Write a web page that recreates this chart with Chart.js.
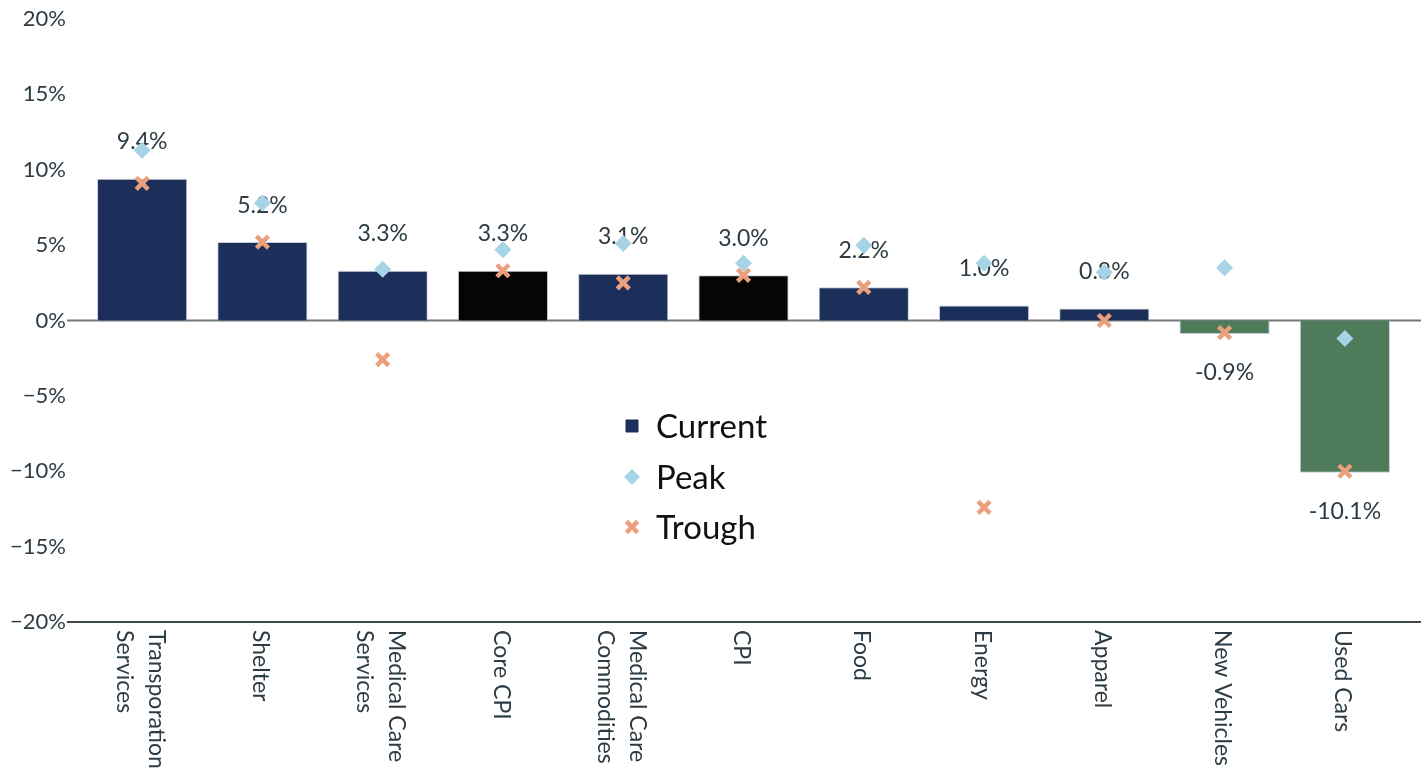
<!DOCTYPE html>
<html>
<head>
<meta charset="utf-8">
<script src="https://cdn.jsdelivr.net/npm/chart.js@4.4.1/dist/chart.umd.min.js"></script>
<style>
  html, body { margin: 0; background: #fff; }
  #wrap { width: 1426px; height: 773px; }
</style>
</head>
<body>
<div id="wrap"><canvas id="chart"></canvas></div>
<script>
const categories = [
  ["Transporation", "Services"], "Shelter", ["Medical Care", "Services"], "Core CPI",
  ["Medical Care", "Commodities"], "CPI", "Food", "Energy", "Apparel", "New Vehicles", "Used Cars"
];
const current = [9.4, 5.2, 3.3, 3.3, 3.1, 3.0, 2.2, 1.0, 0.8, -0.9, -10.1];
const peak = [11.3, 7.8, 3.4, 4.7, 5.1, 3.8, 5.0, 3.8, 3.2, 3.5, -1.2];
const trough = [9.1, 5.2, -2.6, 3.3, 2.5, 3.0, 2.2, -12.4, 0.0, -0.8, -10.0];
const yTicks = [-20, -15, -10, -5, 0, 5, 10, 15, 20];

const NAVY = "#1c2e5a", BLACK = "#050505", GREEN = "#4e7b59";
const PEAK = "#a6d3e5", TROUGH = "#eb9f7d";
const TEXT = "#2d3b44";
const FONT = 'Lato, "Noto Sans", sans-serif';

const barColors = current.map((v, i) =>
  String(categories[i]).includes("CPI") ? BLACK : (v < 0 ? GREEN : NAVY));

const fmtPct = v => (v < 0 ? "\u2212" + Math.abs(v) : v) + "%";

const overlay = {
  id: "overlay",
  beforeDatasetsDraw(chart) {
    const { ctx, chartArea: a, scales: { y } } = chart;
    const y0 = y.getPixelForValue(0);
    ctx.save();
    ctx.lineWidth = 2;
    ctx.strokeStyle = "#6e787d";
    ctx.beginPath(); ctx.moveTo(a.left - 15, y0); ctx.lineTo(a.right + 16, y0); ctx.stroke();
    ctx.strokeStyle = "#3e494f";
    ctx.beginPath(); ctx.moveTo(a.left - 15, a.bottom); ctx.lineTo(a.right + 16, a.bottom); ctx.stroke();
    ctx.restore();
  },
  afterDatasetDraw(chart, args) {
    if (args.index !== 0) return;
    const { ctx } = chart;
    ctx.save();
    ctx.font = "23px " + FONT;
    ctx.fillStyle = TEXT;
    ctx.textAlign = "center";
    ctx.textBaseline = "middle";
    args.meta.data.forEach((bar, i) => {
      const v = current[i];
      const off = v < 0 ? 39 : -37;
      ctx.fillText(v.toFixed(1) + "%", bar.x, bar.y + off);
    });
    ctx.restore();
  },
  afterDraw(chart) {
    const { ctx, chartArea: a, scales: { x } } = chart;
    ctx.save();
    // rotated category labels, reading top to bottom
    ctx.font = "23px " + FONT;
    ctx.fillStyle = TEXT;
    ctx.textAlign = "left";
    ctx.textBaseline = "middle";
    chart.data.labels.forEach((lab, i) => {
      const lines = [].concat(lab);
      ctx.save();
      ctx.translate(x.getPixelForTick(i) - 2, a.bottom + 8);
      ctx.rotate(Math.PI / 2);
      lines.forEach((t, j) => ctx.fillText(t, 0, (j - (lines.length - 1) / 2) * 32));
      ctx.restore();
    });
    // legend inside the plot
    const rows = [426, 477, 527];
    ctx.font = "33px " + FONT;
    ctx.fillStyle = "#111";
    ctx.textBaseline = "middle";
    chart.data.datasets.forEach((ds, i) => {
      const cy = rows[i];
      const style = ds.type === "line" ? ds.pointStyle : "rect";
      const color = ds.type === "line" ? ds.pointBackgroundColor : NAVY;
      const radius = style === "rect" ? 8.5 : (style === "crossRot" ? 8 : 7.5);
      ctx.save();
      ctx.fillStyle = color;
      ctx.strokeStyle = color;
      ctx.lineWidth = style === "crossRot" ? 4.5 : 1;
      Chart.helpers.drawPoint(ctx, { pointStyle: style, radius, rotation: 0, borderWidth: ctx.lineWidth }, 632, cy);
      ctx.restore();
      ctx.fillText(ds.label, 656, cy + 1);
    });
    ctx.restore();
  }
};

new Chart(document.getElementById("chart"), {
  data: {
    labels: categories,
    datasets: [
      {
        type: "bar",
        label: "Current",
        data: current,
        backgroundColor: barColors,
        borderColor: "rgba(190,200,215,0.9)",
        borderWidth: 1,
        barPercentage: 0.75,
        categoryPercentage: 1,
        order: 3
      },
      {
        type: "line",
        label: "Peak",
        data: peak,
        showLine: false,
        pointStyle: "rectRot",
        pointRadius: 8.5,
        pointBackgroundColor: PEAK,
        pointBorderColor: PEAK,
        pointBorderWidth: 0,
        order: 1
      },
      {
        type: "line",
        label: "Trough",
        data: trough,
        showLine: false,
        pointStyle: "crossRot",
        pointRadius: 8.5,
        pointBackgroundColor: TROUGH,
        pointBorderColor: TROUGH,
        pointBorderWidth: 4.5,
        order: 2
      }
    ]
  },
  options: {
    responsive: true,
    maintainAspectRatio: false,
    animation: false,
    layout: { padding: { top: 19, right: 21, bottom: 143, left: 0 } },
    plugins: { legend: { display: false }, tooltip: { enabled: false } },
    scales: {
      x: {
        ticks: { display: false },
        grid: { display: false },
        border: { display: false }
      },
      y: {
        min: yTicks[0],
        max: yTicks[yTicks.length - 1],
        afterFit: s => { s.width = 82; s.paddingTop = 0; s.paddingBottom = 0; },
        afterBuildTicks: s => { s.ticks = yTicks.map(v => ({ value: v })); },
        ticks: {
          padding: 16,
          color: TEXT,
          font: { family: FONT, size: 22 },
          callback: v => fmtPct(v)
        },
        grid: { display: false, drawTicks: false },
        border: { display: false }
      }
    }
  },
  plugins: [overlay]
});
</script>
</body>
</html>
